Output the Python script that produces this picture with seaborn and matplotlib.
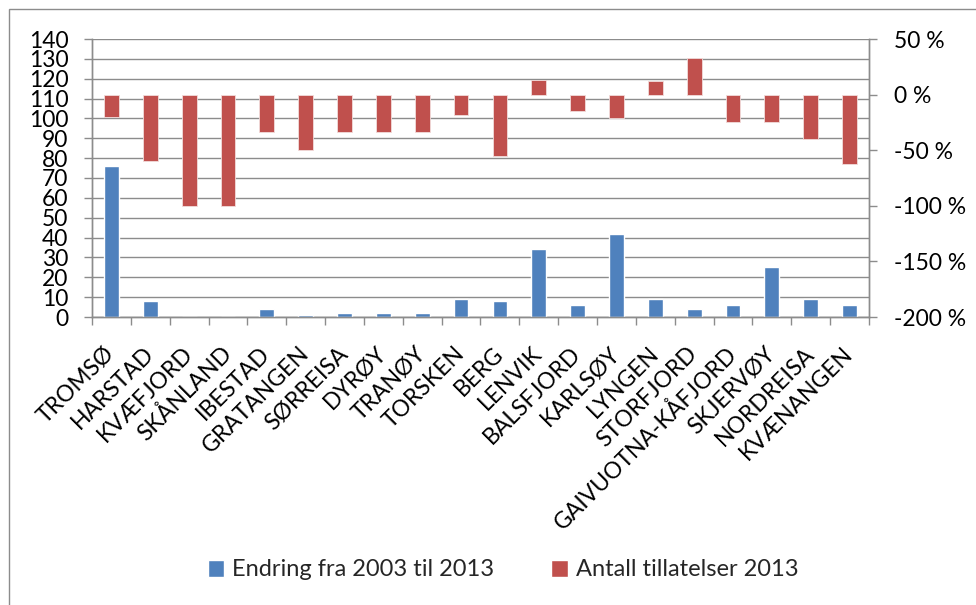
import matplotlib
matplotlib.use("Agg")
import matplotlib.pyplot as plt
from matplotlib.patches import Patch, Rectangle
from matplotlib.ticker import FuncFormatter, FixedLocator, MultipleLocator
import seaborn as sns
import pandas as pd

kommuner = ["TROMSØ", "HARSTAD", "KVÆFJORD", "SKÅNLAND", "IBESTAD", "GRATANGEN",
            "SØRREISA", "DYRØY", "TRANØY", "TORSKEN", "BERG", "LENVIK", "BALSFJORD",
            "KARLSØY", "LYNGEN", "STORFJORD", "GAIVUOTNA-KÅFJORD", "SKJERVØY",
            "NORDREISA", "KVÆNANGEN"]
antall = [76, 8, 0, 0, 4, 1, 2, 2, 2, 9, 8, 34, 6, 42, 9, 4, 6, 25, 9, 6]
endring_pct = [-20.0, -60.0, -100.0, -100.0, -33.3, -50.0, -33.3, -33.3, -33.3,
               -18.2, -55.6, 13.3, -14.3, -20.8, 12.5, 33.3, -25.0, -24.2,
               -40.0, -62.5]
serie_blaa = "Endring fra 2003 til 2013"
serie_roed = "Antall tillatelser 2013"

BLUE = "#4F81BD"
RED = "#C0504D"
GRID = "#8C8C8C"

df = pd.DataFrame({"kommune": kommuner, "antall": antall, "pct": endring_pct})

sns.set_theme(style="white")
plt.rcParams["font.family"] = ["Lato", "DejaVu Sans"]

fig = plt.figure(figsize=(9.76, 6.05), dpi=100)
W, H = 976, 605
ax = fig.add_axes([92 / W, 1 - 317 / H, (869 - 92) / W, (317 - 39) / H])
ax2 = ax.twinx()

sns.barplot(data=df, x="kommune", y="antall", color=BLUE, width=0.38,
            saturation=1, ax=ax, zorder=3)
sns.barplot(data=df, x="kommune", y="pct", color=RED, width=0.38,
            saturation=1, ax=ax2, zorder=3, edgecolor="#F2DCDB", linewidth=0.6)

n = len(kommuner)
for a in (ax, ax2):
    a.set_xlim(-0.5, n - 0.5)
    a.set_xlabel("")
    a.set_ylabel("")
    for s in a.spines.values():
        s.set_color(GRID)
        s.set_linewidth(1.0)
    a.spines["top"].set_visible(False)

ax.set_ylim(0, 140)
ax.yaxis.set_major_locator(MultipleLocator(10))
ax.grid(axis="y", color=GRID, linewidth=1.0, zorder=0)
ax.set_axisbelow(True)

ax2.set_ylim(-200, 50)
ax2.yaxis.set_major_locator(MultipleLocator(50))
ax2.yaxis.set_major_formatter(FuncFormatter(lambda v, p: f"{v:.0f} %"))
ax2.grid(False)

# category labels centred on bars, tick marks at category boundaries
ax.set_xticks(range(n))
ax.set_xticklabels(kommuner, rotation=45, ha="right", va="center",
                   rotation_mode="anchor", fontsize=16.5, color="black")
ax.xaxis.set_minor_locator(FixedLocator([i - 0.5 for i in range(n + 1)]))
ax.tick_params(axis="x", which="major", length=0, pad=24)
ax.tick_params(axis="x", which="minor", length=6, width=1.0, color=GRID,
               direction="out", bottom=True)
ax2.tick_params(axis="x", which="both", length=0, labelbottom=False)

ax.tick_params(axis="y", left=True, length=6, width=1.0, color=GRID,
               direction="out", labelsize=16.5, labelcolor="black", pad=11)
ax2.tick_params(axis="y", right=True, length=6, width=1.0, color=GRID,
                direction="out", labelsize=16.5, labelcolor="black", pad=12)

handles = [Patch(facecolor=BLUE, label=serie_blaa),
           Patch(facecolor=RED, label=serie_roed)]
fig.legend(handles=handles, loc="center", bbox_to_anchor=(503 / W, 1 - 570 / H),
           ncol=2, frameon=False, fontsize=17, handlelength=0.7,
           handleheight=0.7, handletextpad=0.35, columnspacing=2.4)

fig.patches.append(Rectangle((9 / W, -0.1), 1.2, (H - 9) / H + 0.1,
                             transform=fig.transFigure, fill=False,
                             edgecolor=GRID, linewidth=1.0))

fig.savefig("out.png", dpi=100, facecolor="white")
